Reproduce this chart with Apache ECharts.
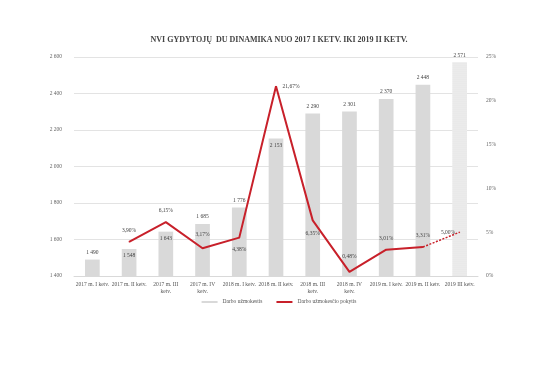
<!DOCTYPE html>
<html><head><meta charset="utf-8">
<script src="https://cdn.jsdelivr.net/npm/echarts@6/dist/echarts.min.js"></script>
<style>html,body{margin:0;padding:0;background:#fff}#c{width:558px;height:382px}</style>
</head><body><div id="c"></div>
<script>
const categories = ['2017 m. I ketv.','2017 m. II ketv.','2017 m. III\nketv.','2017 m. IV\nketv.','2018 m. I ketv.','2018 m. II ketv.','2018 m. III\nketv.','2018 m. IV\nketv.','2019 m. I ketv.','2019 m. II ketv.','2019 III ketv.'];
const wages = [1490,1548,1643,1685,1776,2153,2290,2301,2370,2448,2571];
const change = [null,3.90,6.15,3.17,4.38,21.67,6.35,0.48,3.01,3.31,null];
const changeForecast = [null,null,null,null,null,null,null,null,null,3.31,5.00];
const leftTicks = [1400,2600,200];
const rightTicks = [0,25,5];

const serif = 'Liberation Serif';
const barLabelInside = [false,true,true,false,false,true,false,false,false,false,false];
const linePos = [null,'top','top','top','bottom','right','bottom','top','top','top','left'];
const lineDist = [0,8,8,10,8,6,10,12,8,8,4];
const fmt = v => String(v).replace(/\B(?=(\d{3})+(?!\d))/g,' ');
const pct = v => v.toFixed(2).replace('.',',') + '%';

const barData = wages.map((v,i)=>{
  const d = {value:v, label:{position: barLabelInside[i] ? 'insideTop' : 'top'}};
  if (i === wages.length-1) d.itemStyle = {color:'#f1f1f1', decal:{symbol:'circle', symbolSize:0.5, color:'rgba(190,190,190,0.7)', dashArrayX:[2,0], dashArrayY:[2,0]}};
  return d;
});
const lineData = change.map((v,i)=> v==null ? null : {value:v, label:{position:linePos[i], distance:lineDist[i]}});
const fcData = changeForecast.map((v,i)=> v==null ? null : {value:v, label:{show: i===changeForecast.length-1, position:'left', distance:lineDist[i]}});

const chart = echarts.init(document.getElementById('c'));
chart.setOption({
  animation:false,
  title:{text:'NVI GYDYTOJŲ  DU DINAMIKA NUO 2017 I KETV. IKI 2019 II KETV.', left:'center', top:31,
    textStyle:{fontFamily:serif, fontSize:8, fontWeight:'bold', color:'#444'}},
  grid:{left:74, right:80, top:57, bottom:106, containLabel:false},
  legend:{bottom:72, left:'center', itemWidth:16, itemHeight:2, itemGap:14, icon:'rect',
    textStyle:{fontFamily:serif, fontSize:5.5, color:'#555'},
    data:[{name:'Darbo užmokestis', itemStyle:{color:'#d9d9d9'}},{name:'Darbo užmokesčio pokytis', itemStyle:{color:'#c8202a'}}]},
  xAxis:{type:'category', data:categories,
    axisLine:{lineStyle:{color:'#d9d9d9'}}, axisTick:{show:false},
    axisLabel:{fontFamily:serif, fontSize:5.5, color:'#555', interval:0, lineHeight:7, margin:5}},
  yAxis:[
    {type:'value', min:leftTicks[0], max:leftTicks[1], interval:leftTicks[2],
     axisLabel:{fontFamily:serif, fontSize:5.5, color:'#666', formatter:fmt, margin:12},
     splitLine:{lineStyle:{color:'#e3e3e3'}}, axisLine:{show:false}, axisTick:{show:false}},
    {type:'value', min:rightTicks[0], max:rightTicks[1], interval:rightTicks[2],
     axisLabel:{fontFamily:serif, fontSize:5.5, color:'#666', formatter:'{value}%', margin:8},
     splitLine:{show:false}, axisLine:{show:false}, axisTick:{show:false}}
  ],
  series:[
    {name:'Darbo užmokestis', type:'bar', data:barData, barWidth:'40%', itemStyle:{color:'#d9d9d9'},
     label:{show:true, fontFamily:serif, fontSize:5.5, color:'#444', distance:4, formatter:p=>fmt(p.value)}},
    {name:'Darbo užmokesčio pokytis', type:'line', yAxisIndex:1, data:lineData, symbol:'circle', symbolSize:1, showSymbol:true,
     lineStyle:{color:'#c8202a', width:2}, itemStyle:{color:'#c8202a'},
     label:{show:true, fontFamily:serif, fontSize:5.5, color:'#444', formatter:p=>pct(p.value)}},
    {name:'fc', type:'line', yAxisIndex:1, data:fcData, symbol:'circle', symbolSize:1, showSymbol:true,
     lineStyle:{color:'#c8202a', width:1.5, type:[2,1.5]}, itemStyle:{color:'#c8202a'},
     label:{fontFamily:serif, fontSize:5.5, color:'#444', formatter:p=>pct(p.value)}}
  ]
});
</script></body></html>
